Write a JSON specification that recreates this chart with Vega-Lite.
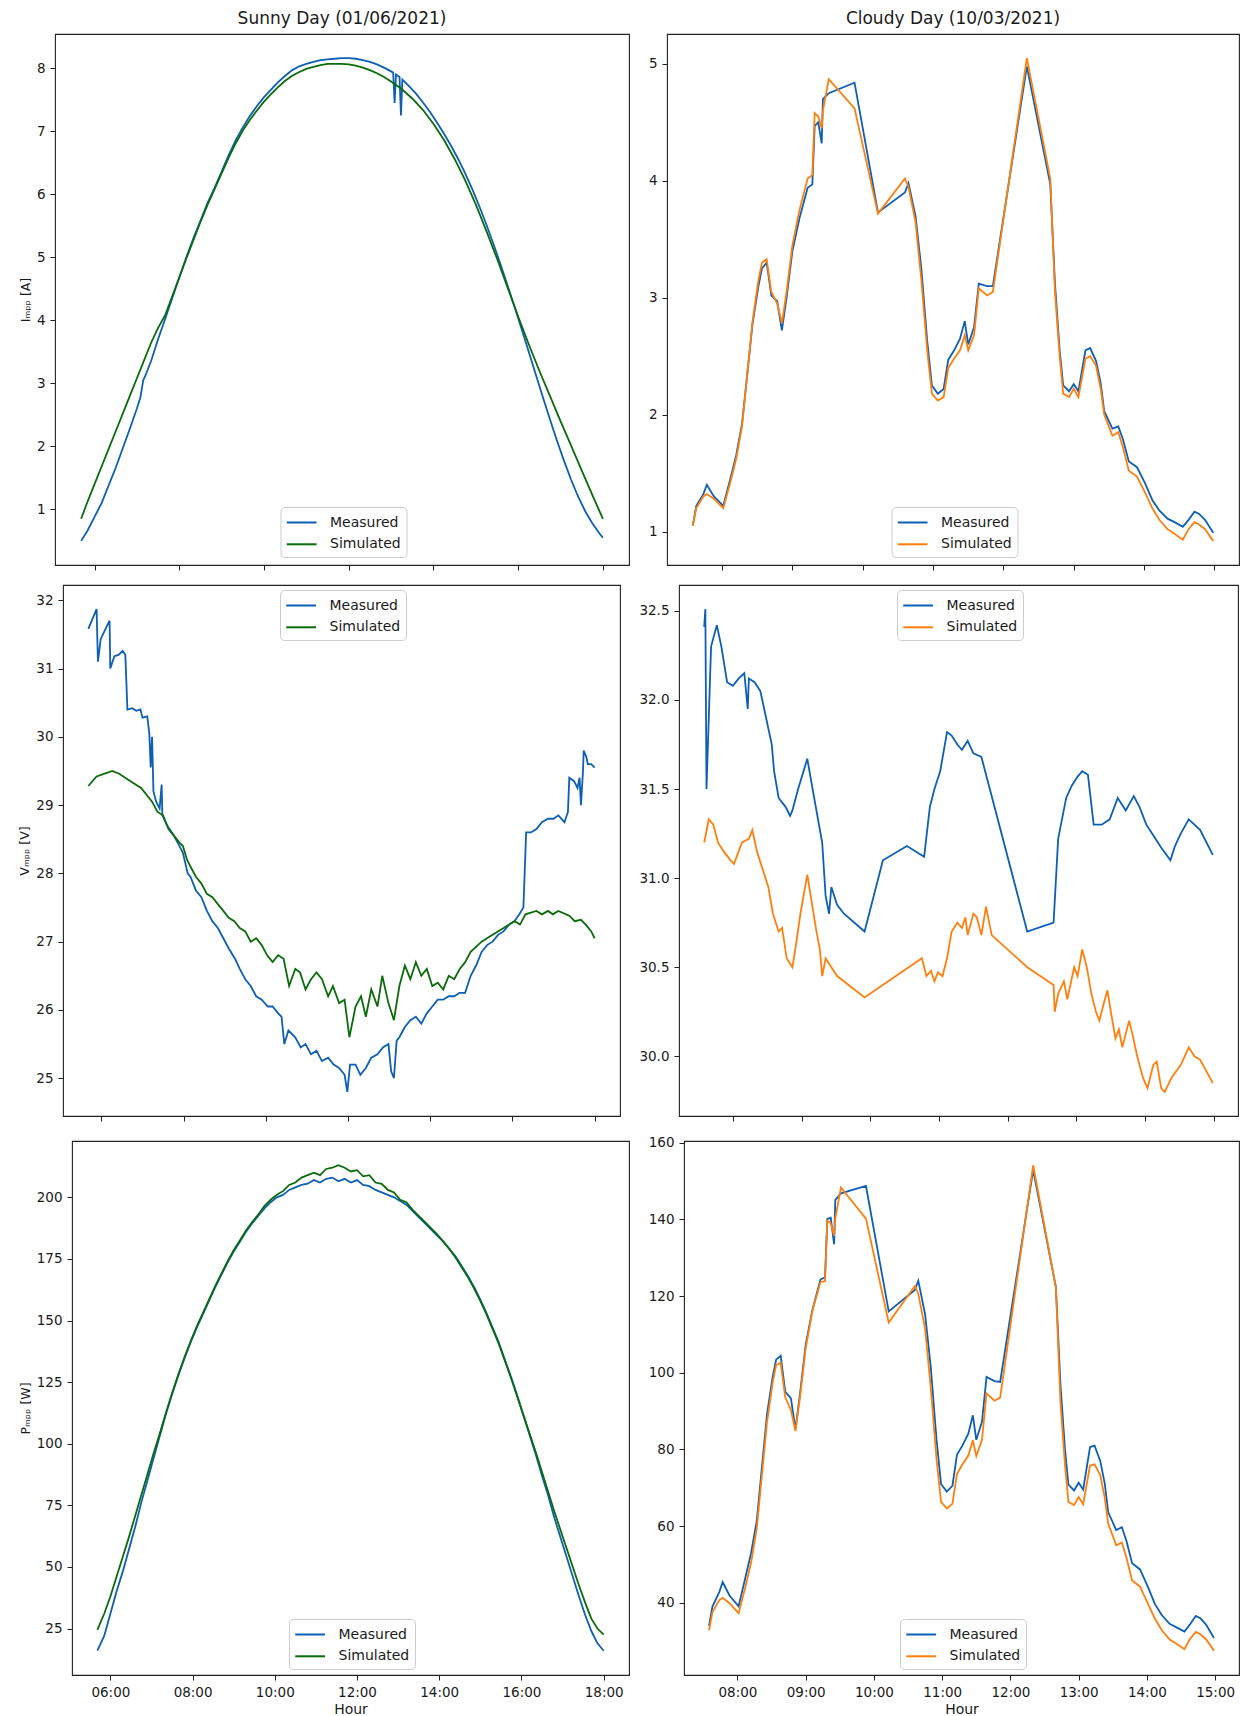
{
"$schema": "https://vega.github.io/schema/vega-lite/v6.json",
"background": "white",
"padding": {"left": 0, "top": 9, "right": 0, "bottom": 0},
"spacing": 12,
"resolve": {"scale": {"x": "independent", "y": "independent", "color": "independent"}, "axis": {"x": "independent", "y": "independent"}, "legend": {"color": "independent"}},
"vconcat": [
{
"spacing": 17,
"resolve": {"scale": {"x": "independent", "y": "independent", "color": "independent"}, "axis": {"x": "independent", "y": "independent"}, "legend": {"color": "independent"}},
"hconcat": [
{"width": 1, "height": 10, "data": {"values": []}, "mark": {"type": "point", "opacity": 0}, "encoding": {}, "view": {"stroke": null}},
{
"width": 574, "height": 531,
"title": {"text": "Sunny Day (01/06/2021)"},
"data": {"values": [
{"time":"2021-06-01T05:41","series":"Measured","value":0.50},{"time":"2021-06-01T05:50","series":"Measured","value":0.66},{"time":"2021-06-01T06:00","series":"Measured","value":0.88},{"time":"2021-06-01T06:10","series":"Measured","value":1.10},{"time":"2021-06-01T06:20","series":"Measured","value":1.38},{"time":"2021-06-01T06:30","series":"Measured","value":1.66},{"time":"2021-06-01T06:40","series":"Measured","value":1.97},{"time":"2021-06-01T06:50","series":"Measured","value":2.28},{"time":"2021-06-01T07:00","series":"Measured","value":2.60},{"time":"2021-06-01T07:05","series":"Measured","value":2.78},{"time":"2021-06-01T07:09","series":"Measured","value":3.05},{"time":"2021-06-01T07:12","series":"Measured","value":3.12},{"time":"2021-06-01T07:20","series":"Measured","value":3.35},{"time":"2021-06-01T07:30","series":"Measured","value":3.70},{"time":"2021-06-01T07:40","series":"Measured","value":4.02},{"time":"2021-06-01T07:50","series":"Measured","value":4.35},{"time":"2021-06-01T08:00","series":"Measured","value":4.68},{"time":"2021-06-01T08:10","series":"Measured","value":5.00},{"time":"2021-06-01T08:20","series":"Measured","value":5.30},{"time":"2021-06-01T08:30","series":"Measured","value":5.58},{"time":"2021-06-01T08:40","series":"Measured","value":5.86},{"time":"2021-06-01T08:50","series":"Measured","value":6.10},{"time":"2021-06-01T09:00","series":"Measured","value":6.36},{"time":"2021-06-01T09:10","series":"Measured","value":6.62},{"time":"2021-06-01T09:20","series":"Measured","value":6.86},{"time":"2021-06-01T09:30","series":"Measured","value":7.06},{"time":"2021-06-01T09:40","series":"Measured","value":7.24},{"time":"2021-06-01T09:50","series":"Measured","value":7.40},{"time":"2021-06-01T10:00","series":"Measured","value":7.54},{"time":"2021-06-01T10:10","series":"Measured","value":7.66},{"time":"2021-06-01T10:20","series":"Measured","value":7.78},{"time":"2021-06-01T10:30","series":"Measured","value":7.88},{"time":"2021-06-01T10:40","series":"Measured","value":7.97},{"time":"2021-06-01T10:50","series":"Measured","value":8.03},{"time":"2021-06-01T11:00","series":"Measured","value":8.07},{"time":"2021-06-01T11:10","series":"Measured","value":8.10},{"time":"2021-06-01T11:20","series":"Measured","value":8.13},{"time":"2021-06-01T11:30","series":"Measured","value":8.14},{"time":"2021-06-01T11:40","series":"Measured","value":8.15},{"time":"2021-06-01T11:50","series":"Measured","value":8.16},{"time":"2021-06-01T12:00","series":"Measured","value":8.16},{"time":"2021-06-01T12:10","series":"Measured","value":8.15},{"time":"2021-06-01T12:20","series":"Measured","value":8.13},{"time":"2021-06-01T12:30","series":"Measured","value":8.10},{"time":"2021-06-01T12:40","series":"Measured","value":8.06},{"time":"2021-06-01T12:50","series":"Measured","value":8.01},{"time":"2021-06-01T13:00","series":"Measured","value":7.95},{"time":"2021-06-01T13:03","series":"Measured","value":7.93},{"time":"2021-06-01T13:05","series":"Measured","value":7.45},{"time":"2021-06-01T13:07","series":"Measured","value":7.90},{"time":"2021-06-01T13:12","series":"Measured","value":7.86},{"time":"2021-06-01T13:14","series":"Measured","value":7.25},{"time":"2021-06-01T13:16","series":"Measured","value":7.82},{"time":"2021-06-01T13:25","series":"Measured","value":7.72},{"time":"2021-06-01T13:35","series":"Measured","value":7.60},{"time":"2021-06-01T13:45","series":"Measured","value":7.46},{"time":"2021-06-01T13:55","series":"Measured","value":7.31},{"time":"2021-06-01T14:05","series":"Measured","value":7.14},{"time":"2021-06-01T14:15","series":"Measured","value":6.96},{"time":"2021-06-01T14:25","series":"Measured","value":6.77},{"time":"2021-06-01T14:35","series":"Measured","value":6.56},{"time":"2021-06-01T14:45","series":"Measured","value":6.33},{"time":"2021-06-01T14:55","series":"Measured","value":6.08},{"time":"2021-06-01T15:05","series":"Measured","value":5.81},{"time":"2021-06-01T15:15","series":"Measured","value":5.52},{"time":"2021-06-01T15:25","series":"Measured","value":5.21},{"time":"2021-06-01T15:35","series":"Measured","value":4.89},{"time":"2021-06-01T15:45","series":"Measured","value":4.55},{"time":"2021-06-01T15:55","series":"Measured","value":4.21},{"time":"2021-06-01T16:05","series":"Measured","value":3.86},{"time":"2021-06-01T16:15","series":"Measured","value":3.50},{"time":"2021-06-01T16:25","series":"Measured","value":3.14},{"time":"2021-06-01T16:35","series":"Measured","value":2.78},{"time":"2021-06-01T16:45","series":"Measured","value":2.43},{"time":"2021-06-01T16:55","series":"Measured","value":2.09},{"time":"2021-06-01T17:05","series":"Measured","value":1.77},{"time":"2021-06-01T17:15","series":"Measured","value":1.47},{"time":"2021-06-01T17:25","series":"Measured","value":1.20},{"time":"2021-06-01T17:35","series":"Measured","value":0.97},{"time":"2021-06-01T17:45","series":"Measured","value":0.78},{"time":"2021-06-01T17:55","series":"Measured","value":0.62},{"time":"2021-06-01T18:00","series":"Measured","value":0.55},
{"time":"2021-06-01T05:41","series":"Simulated","value":0.85},{"time":"2021-06-01T05:50","series":"Simulated","value":1.12},{"time":"2021-06-01T06:00","series":"Simulated","value":1.40},{"time":"2021-06-01T06:10","series":"Simulated","value":1.68},{"time":"2021-06-01T06:20","series":"Simulated","value":1.96},{"time":"2021-06-01T06:30","series":"Simulated","value":2.24},{"time":"2021-06-01T06:40","series":"Simulated","value":2.52},{"time":"2021-06-01T06:50","series":"Simulated","value":2.80},{"time":"2021-06-01T07:00","series":"Simulated","value":3.08},{"time":"2021-06-01T07:10","series":"Simulated","value":3.36},{"time":"2021-06-01T07:20","series":"Simulated","value":3.64},{"time":"2021-06-01T07:30","series":"Simulated","value":3.88},{"time":"2021-06-01T07:40","series":"Simulated","value":4.08},{"time":"2021-06-01T07:50","series":"Simulated","value":4.38},{"time":"2021-06-01T08:00","series":"Simulated","value":4.68},{"time":"2021-06-01T08:10","series":"Simulated","value":4.98},{"time":"2021-06-01T08:20","series":"Simulated","value":5.27},{"time":"2021-06-01T08:30","series":"Simulated","value":5.56},{"time":"2021-06-01T08:40","series":"Simulated","value":5.83},{"time":"2021-06-01T08:50","series":"Simulated","value":6.08},{"time":"2021-06-01T09:00","series":"Simulated","value":6.33},{"time":"2021-06-01T09:10","series":"Simulated","value":6.58},{"time":"2021-06-01T09:20","series":"Simulated","value":6.81},{"time":"2021-06-01T09:30","series":"Simulated","value":7.01},{"time":"2021-06-01T09:40","series":"Simulated","value":7.18},{"time":"2021-06-01T09:50","series":"Simulated","value":7.33},{"time":"2021-06-01T10:00","series":"Simulated","value":7.47},{"time":"2021-06-01T10:10","series":"Simulated","value":7.59},{"time":"2021-06-01T10:20","series":"Simulated","value":7.70},{"time":"2021-06-01T10:30","series":"Simulated","value":7.80},{"time":"2021-06-01T10:40","series":"Simulated","value":7.88},{"time":"2021-06-01T10:50","series":"Simulated","value":7.94},{"time":"2021-06-01T11:00","series":"Simulated","value":7.99},{"time":"2021-06-01T11:10","series":"Simulated","value":8.02},{"time":"2021-06-01T11:20","series":"Simulated","value":8.05},{"time":"2021-06-01T11:30","series":"Simulated","value":8.07},{"time":"2021-06-01T11:40","series":"Simulated","value":8.07},{"time":"2021-06-01T11:50","series":"Simulated","value":8.07},{"time":"2021-06-01T12:00","series":"Simulated","value":8.06},{"time":"2021-06-01T12:10","series":"Simulated","value":8.04},{"time":"2021-06-01T12:20","series":"Simulated","value":8.01},{"time":"2021-06-01T12:30","series":"Simulated","value":7.97},{"time":"2021-06-01T12:40","series":"Simulated","value":7.92},{"time":"2021-06-01T12:50","series":"Simulated","value":7.86},{"time":"2021-06-01T13:00","series":"Simulated","value":7.79},{"time":"2021-06-01T13:15","series":"Simulated","value":7.67},{"time":"2021-06-01T13:30","series":"Simulated","value":7.52},{"time":"2021-06-01T13:45","series":"Simulated","value":7.34},{"time":"2021-06-01T14:00","series":"Simulated","value":7.12},{"time":"2021-06-01T14:15","series":"Simulated","value":6.86},{"time":"2021-06-01T14:30","series":"Simulated","value":6.56},{"time":"2021-06-01T14:45","series":"Simulated","value":6.22},{"time":"2021-06-01T15:00","series":"Simulated","value":5.84},{"time":"2021-06-01T15:15","series":"Simulated","value":5.42},{"time":"2021-06-01T15:30","series":"Simulated","value":4.98},{"time":"2021-06-01T15:45","series":"Simulated","value":4.52},{"time":"2021-06-01T16:00","series":"Simulated","value":4.06},{"time":"2021-06-01T16:15","series":"Simulated","value":3.62},{"time":"2021-06-01T16:30","series":"Simulated","value":3.20},{"time":"2021-06-01T16:45","series":"Simulated","value":2.80},{"time":"2021-06-01T17:00","series":"Simulated","value":2.40},{"time":"2021-06-01T17:15","series":"Simulated","value":2.01},{"time":"2021-06-01T17:30","series":"Simulated","value":1.62},{"time":"2021-06-01T17:45","series":"Simulated","value":1.23},{"time":"2021-06-01T18:00","series":"Simulated","value":0.85}
]},
"mark": {"type": "line", "strokeWidth": 1.8},
"encoding": {
"x": {"field": "time", "type": "temporal", "scale": {"domain": [{"year":2021,"month":6,"date":1,"hours":5,"minutes":4},{"year":2021,"month":6,"date":1,"hours":18,"minutes":37}]}, "axis": {"title": null, "labels": false, "values": [{"year":2021,"month":6,"date":1,"hours":6},{"year":2021,"month":6,"date":1,"hours":8},{"year":2021,"month":6,"date":1,"hours":10},{"year":2021,"month":6,"date":1,"hours":12},{"year":2021,"month":6,"date":1,"hours":14},{"year":2021,"month":6,"date":1,"hours":16},{"year":2021,"month":6,"date":1,"hours":18}]}},
"y": {"field": "value", "type": "quantitative", "scale": {"domain": [0.117, 8.543], "nice": false, "zero": false}, "axis": {"title": "Iₘₚₚ [A]", "values": [1,2,3,4,5,6,7,8], "format": "d"}},
"color": {"field": "series", "type": "nominal", "scale": {"domain": ["Measured","Simulated"], "range": ["#0d5fb3","#0a6b0a"]}, "legend": {"orient": "none", "legendX": 225.5, "legendY": 473, "title": null, "symbolType": "M-1,0H2.22", "symbolSize": 342, "symbolStrokeWidth": 2}}
}
},
{
"width": 572, "height": 531,
"title": {"text": "Cloudy Day (10/03/2021)"},
"data": {"values": [
{"time":"2021-03-10T07:35","series":"Measured","value":1.05},{"time":"2021-03-10T07:38","series":"Measured","value":1.22},{"time":"2021-03-10T07:44","series":"Measured","value":1.32},{"time":"2021-03-10T07:47","series":"Measured","value":1.40},{"time":"2021-03-10T07:53","series":"Measured","value":1.30},{"time":"2021-03-10T08:01","series":"Measured","value":1.22},{"time":"2021-03-10T08:07","series":"Measured","value":1.45},{"time":"2021-03-10T08:12","series":"Measured","value":1.65},{"time":"2021-03-10T08:17","series":"Measured","value":1.92},{"time":"2021-03-10T08:21","series":"Measured","value":2.30},{"time":"2021-03-10T08:26","series":"Measured","value":2.78},{"time":"2021-03-10T08:31","series":"Measured","value":3.10},{"time":"2021-03-10T08:34","series":"Measured","value":3.25},{"time":"2021-03-10T08:38","series":"Measured","value":3.30},{"time":"2021-03-10T08:42","series":"Measured","value":3.02},{"time":"2021-03-10T08:47","series":"Measured","value":2.97},{"time":"2021-03-10T08:51","series":"Measured","value":2.72},{"time":"2021-03-10T08:55","series":"Measured","value":3.00},{"time":"2021-03-10T09:00","series":"Measured","value":3.40},{"time":"2021-03-10T09:06","series":"Measured","value":3.68},{"time":"2021-03-10T09:13","series":"Measured","value":3.94},{"time":"2021-03-10T09:17","series":"Measured","value":3.97},{"time":"2021-03-10T09:19","series":"Measured","value":4.47},{"time":"2021-03-10T09:22","series":"Measured","value":4.50},{"time":"2021-03-10T09:25","series":"Measured","value":4.32},{"time":"2021-03-10T09:26","series":"Measured","value":4.70},{"time":"2021-03-10T09:31","series":"Measured","value":4.75},{"time":"2021-03-10T09:53","series":"Measured","value":4.84},{"time":"2021-03-10T10:13","series":"Measured","value":3.73},{"time":"2021-03-10T10:36","series":"Measured","value":3.90},{"time":"2021-03-10T10:39","series":"Measured","value":3.98},{"time":"2021-03-10T10:45","series":"Measured","value":3.70},{"time":"2021-03-10T10:50","series":"Measured","value":3.25},{"time":"2021-03-10T10:55","series":"Measured","value":2.63},{"time":"2021-03-10T10:59","series":"Measured","value":2.25},{"time":"2021-03-10T11:04","series":"Measured","value":2.18},{"time":"2021-03-10T11:09","series":"Measured","value":2.22},{"time":"2021-03-10T11:13","series":"Measured","value":2.47},{"time":"2021-03-10T11:18","series":"Measured","value":2.55},{"time":"2021-03-10T11:23","series":"Measured","value":2.65},{"time":"2021-03-10T11:27","series":"Measured","value":2.80},{"time":"2021-03-10T11:30","series":"Measured","value":2.60},{"time":"2021-03-10T11:35","series":"Measured","value":2.75},{"time":"2021-03-10T11:39","series":"Measured","value":3.12},{"time":"2021-03-10T11:46","series":"Measured","value":3.10},{"time":"2021-03-10T11:51","series":"Measured","value":3.10},{"time":"2021-03-10T12:20","series":"Measured","value":4.98},{"time":"2021-03-10T12:40","series":"Measured","value":3.97},{"time":"2021-03-10T12:44","series":"Measured","value":3.12},{"time":"2021-03-10T12:48","series":"Measured","value":2.55},{"time":"2021-03-10T12:51","series":"Measured","value":2.25},{"time":"2021-03-10T12:56","series":"Measured","value":2.20},{"time":"2021-03-10T13:00","series":"Measured","value":2.26},{"time":"2021-03-10T13:04","series":"Measured","value":2.20},{"time":"2021-03-10T13:10","series":"Measured","value":2.55},{"time":"2021-03-10T13:14","series":"Measured","value":2.57},{"time":"2021-03-10T13:19","series":"Measured","value":2.46},{"time":"2021-03-10T13:23","series":"Measured","value":2.27},{"time":"2021-03-10T13:26","series":"Measured","value":2.03},{"time":"2021-03-10T13:33","series":"Measured","value":1.88},{"time":"2021-03-10T13:38","series":"Measured","value":1.90},{"time":"2021-03-10T13:42","series":"Measured","value":1.79},{"time":"2021-03-10T13:47","series":"Measured","value":1.60},{"time":"2021-03-10T13:54","series":"Measured","value":1.55},{"time":"2021-03-10T14:01","series":"Measured","value":1.41},{"time":"2021-03-10T14:07","series":"Measured","value":1.27},{"time":"2021-03-10T14:13","series":"Measured","value":1.18},{"time":"2021-03-10T14:20","series":"Measured","value":1.11},{"time":"2021-03-10T14:26","series":"Measured","value":1.08},{"time":"2021-03-10T14:33","series":"Measured","value":1.04},{"time":"2021-03-10T14:38","series":"Measured","value":1.10},{"time":"2021-03-10T14:43","series":"Measured","value":1.17},{"time":"2021-03-10T14:47","series":"Measured","value":1.15},{"time":"2021-03-10T14:52","series":"Measured","value":1.10},{"time":"2021-03-10T14:59","series":"Measured","value":0.99},
{"time":"2021-03-10T07:35","series":"Simulated","value":1.05},{"time":"2021-03-10T07:38","series":"Simulated","value":1.20},{"time":"2021-03-10T07:44","series":"Simulated","value":1.30},{"time":"2021-03-10T07:47","series":"Simulated","value":1.32},{"time":"2021-03-10T07:53","series":"Simulated","value":1.28},{"time":"2021-03-10T08:01","series":"Simulated","value":1.20},{"time":"2021-03-10T08:07","series":"Simulated","value":1.42},{"time":"2021-03-10T08:12","series":"Simulated","value":1.62},{"time":"2021-03-10T08:17","series":"Simulated","value":1.90},{"time":"2021-03-10T08:21","series":"Simulated","value":2.30},{"time":"2021-03-10T08:26","series":"Simulated","value":2.80},{"time":"2021-03-10T08:31","series":"Simulated","value":3.15},{"time":"2021-03-10T08:34","series":"Simulated","value":3.30},{"time":"2021-03-10T08:38","series":"Simulated","value":3.33},{"time":"2021-03-10T08:42","series":"Simulated","value":3.05},{"time":"2021-03-10T08:47","series":"Simulated","value":2.95},{"time":"2021-03-10T08:51","series":"Simulated","value":2.78},{"time":"2021-03-10T08:55","series":"Simulated","value":3.05},{"time":"2021-03-10T09:00","series":"Simulated","value":3.45},{"time":"2021-03-10T09:06","series":"Simulated","value":3.75},{"time":"2021-03-10T09:13","series":"Simulated","value":4.02},{"time":"2021-03-10T09:17","series":"Simulated","value":4.05},{"time":"2021-03-10T09:19","series":"Simulated","value":4.58},{"time":"2021-03-10T09:22","series":"Simulated","value":4.55},{"time":"2021-03-10T09:25","series":"Simulated","value":4.45},{"time":"2021-03-10T09:26","series":"Simulated","value":4.60},{"time":"2021-03-10T09:31","series":"Simulated","value":4.87},{"time":"2021-03-10T09:53","series":"Simulated","value":4.62},{"time":"2021-03-10T10:13","series":"Simulated","value":3.72},{"time":"2021-03-10T10:36","series":"Simulated","value":4.02},{"time":"2021-03-10T10:39","series":"Simulated","value":3.95},{"time":"2021-03-10T10:45","series":"Simulated","value":3.65},{"time":"2021-03-10T10:50","series":"Simulated","value":3.15},{"time":"2021-03-10T10:55","series":"Simulated","value":2.55},{"time":"2021-03-10T10:59","series":"Simulated","value":2.18},{"time":"2021-03-10T11:04","series":"Simulated","value":2.12},{"time":"2021-03-10T11:09","series":"Simulated","value":2.15},{"time":"2021-03-10T11:13","series":"Simulated","value":2.40},{"time":"2021-03-10T11:18","series":"Simulated","value":2.48},{"time":"2021-03-10T11:23","series":"Simulated","value":2.55},{"time":"2021-03-10T11:27","series":"Simulated","value":2.68},{"time":"2021-03-10T11:30","series":"Simulated","value":2.55},{"time":"2021-03-10T11:35","series":"Simulated","value":2.68},{"time":"2021-03-10T11:39","series":"Simulated","value":3.08},{"time":"2021-03-10T11:46","series":"Simulated","value":3.02},{"time":"2021-03-10T11:51","series":"Simulated","value":3.05},{"time":"2021-03-10T12:20","series":"Simulated","value":5.05},{"time":"2021-03-10T12:40","series":"Simulated","value":4.02},{"time":"2021-03-10T12:44","series":"Simulated","value":3.05},{"time":"2021-03-10T12:48","series":"Simulated","value":2.50},{"time":"2021-03-10T12:51","series":"Simulated","value":2.18},{"time":"2021-03-10T12:56","series":"Simulated","value":2.15},{"time":"2021-03-10T13:00","series":"Simulated","value":2.22},{"time":"2021-03-10T13:04","series":"Simulated","value":2.15},{"time":"2021-03-10T13:10","series":"Simulated","value":2.48},{"time":"2021-03-10T13:14","series":"Simulated","value":2.50},{"time":"2021-03-10T13:19","series":"Simulated","value":2.42},{"time":"2021-03-10T13:23","series":"Simulated","value":2.22},{"time":"2021-03-10T13:26","series":"Simulated","value":2.00},{"time":"2021-03-10T13:33","series":"Simulated","value":1.82},{"time":"2021-03-10T13:38","series":"Simulated","value":1.85},{"time":"2021-03-10T13:42","series":"Simulated","value":1.72},{"time":"2021-03-10T13:47","series":"Simulated","value":1.52},{"time":"2021-03-10T13:54","series":"Simulated","value":1.47},{"time":"2021-03-10T14:01","series":"Simulated","value":1.33},{"time":"2021-03-10T14:07","series":"Simulated","value":1.20},{"time":"2021-03-10T14:13","series":"Simulated","value":1.10},{"time":"2021-03-10T14:20","series":"Simulated","value":1.02},{"time":"2021-03-10T14:26","series":"Simulated","value":0.98},{"time":"2021-03-10T14:33","series":"Simulated","value":0.93},{"time":"2021-03-10T14:38","series":"Simulated","value":1.02},{"time":"2021-03-10T14:43","series":"Simulated","value":1.08},{"time":"2021-03-10T14:47","series":"Simulated","value":1.06},{"time":"2021-03-10T14:52","series":"Simulated","value":1.02},{"time":"2021-03-10T14:59","series":"Simulated","value":0.92}
]},
"mark": {"type": "line", "strokeWidth": 1.8},
"encoding": {
"x": {"field": "time", "type": "temporal", "scale": {"domain": [{"year":2021,"month":3,"date":10,"hours":7,"minutes":13},{"year":2021,"month":3,"date":10,"hours":15,"minutes":21}]}, "axis": {"title": null, "labels": false, "values": [{"year":2021,"month":3,"date":10,"hours":8},{"year":2021,"month":3,"date":10,"hours":9},{"year":2021,"month":3,"date":10,"hours":10},{"year":2021,"month":3,"date":10,"hours":11},{"year":2021,"month":3,"date":10,"hours":12},{"year":2021,"month":3,"date":10,"hours":13},{"year":2021,"month":3,"date":10,"hours":14},{"year":2021,"month":3,"date":10,"hours":15}]}},
"y": {"field": "value", "type": "quantitative", "scale": {"domain": [0.7135, 5.2565], "nice": false, "zero": false}, "axis": {"title": null, "values": [1,2,3,4,5], "format": "d"}},
"color": {"field": "series", "type": "nominal", "scale": {"domain": ["Measured","Simulated"], "range": ["#0d5fb3","#ff7f0e"]}, "legend": {"orient": "none", "legendX": 224.5, "legendY": 473, "title": null, "symbolType": "M-1,0H2.22", "symbolSize": 342, "symbolStrokeWidth": 2}}
}
}
]
},
{
"spacing": 17,
"resolve": {"scale": {"x": "independent", "y": "independent", "color": "independent"}, "axis": {"x": "independent", "y": "independent"}, "legend": {"color": "independent"}},
"hconcat": [
{"width": 1, "height": 10, "data": {"values": []}, "mark": {"type": "point", "opacity": 0}, "encoding": {}, "view": {"stroke": null}},
{
"width": 557, "height": 531,
"data": {"values": [
{"time":"2021-06-01T05:41","series":"Measured","value":31.58},{"time":"2021-06-01T05:53","series":"Measured","value":31.87},{"time":"2021-06-01T05:55","series":"Measured","value":31.10},{"time":"2021-06-01T05:59","series":"Measured","value":31.43},{"time":"2021-06-01T06:08","series":"Measured","value":31.62},{"time":"2021-06-01T06:12","series":"Measured","value":31.70},{"time":"2021-06-01T06:13","series":"Measured","value":31.00},{"time":"2021-06-01T06:19","series":"Measured","value":31.18},{"time":"2021-06-01T06:25","series":"Measured","value":31.20},{"time":"2021-06-01T06:31","series":"Measured","value":31.26},{"time":"2021-06-01T06:35","series":"Measured","value":31.20},{"time":"2021-06-01T06:38","series":"Measured","value":30.40},{"time":"2021-06-01T06:45","series":"Measured","value":30.42},{"time":"2021-06-01T06:51","series":"Measured","value":30.38},{"time":"2021-06-01T06:57","series":"Measured","value":30.40},{"time":"2021-06-01T07:00","series":"Measured","value":30.28},{"time":"2021-06-01T07:07","series":"Measured","value":30.30},{"time":"2021-06-01T07:10","series":"Measured","value":30.05},{"time":"2021-06-01T07:12","series":"Measured","value":29.55},{"time":"2021-06-01T07:14","series":"Measured","value":30.00},{"time":"2021-06-01T07:16","series":"Measured","value":29.20},{"time":"2021-06-01T07:20","series":"Measured","value":29.05},{"time":"2021-06-01T07:25","series":"Measured","value":28.95},{"time":"2021-06-01T07:28","series":"Measured","value":29.30},{"time":"2021-06-01T07:29","series":"Measured","value":28.85},{"time":"2021-06-01T07:36","series":"Measured","value":28.70},{"time":"2021-06-01T07:46","series":"Measured","value":28.55},{"time":"2021-06-01T07:54","series":"Measured","value":28.40},{"time":"2021-06-01T07:59","series":"Measured","value":28.30},{"time":"2021-06-01T08:06","series":"Measured","value":28.00},{"time":"2021-06-01T08:10","series":"Measured","value":27.95},{"time":"2021-06-01T08:18","series":"Measured","value":27.75},{"time":"2021-06-01T08:26","series":"Measured","value":27.65},{"time":"2021-06-01T08:34","series":"Measured","value":27.45},{"time":"2021-06-01T08:42","series":"Measured","value":27.30},{"time":"2021-06-01T08:50","series":"Measured","value":27.20},{"time":"2021-06-01T08:58","series":"Measured","value":27.05},{"time":"2021-06-01T09:06","series":"Measured","value":26.90},{"time":"2021-06-01T09:15","series":"Measured","value":26.75},{"time":"2021-06-01T09:22","series":"Measured","value":26.60},{"time":"2021-06-01T09:30","series":"Measured","value":26.45},{"time":"2021-06-01T09:38","series":"Measured","value":26.35},{"time":"2021-06-01T09:46","series":"Measured","value":26.20},{"time":"2021-06-01T09:54","series":"Measured","value":26.15},{"time":"2021-06-01T10:03","series":"Measured","value":26.05},{"time":"2021-06-01T10:10","series":"Measured","value":26.05},{"time":"2021-06-01T10:18","series":"Measured","value":25.95},{"time":"2021-06-01T10:23","series":"Measured","value":25.90},{"time":"2021-06-01T10:27","series":"Measured","value":25.50},{"time":"2021-06-01T10:33","series":"Measured","value":25.70},{"time":"2021-06-01T10:43","series":"Measured","value":25.60},{"time":"2021-06-01T10:51","series":"Measured","value":25.45},{"time":"2021-06-01T10:58","series":"Measured","value":25.50},{"time":"2021-06-01T11:06","series":"Measured","value":25.35},{"time":"2021-06-01T11:14","series":"Measured","value":25.40},{"time":"2021-06-01T11:22","series":"Measured","value":25.25},{"time":"2021-06-01T11:31","series":"Measured","value":25.30},{"time":"2021-06-01T11:39","series":"Measured","value":25.20},{"time":"2021-06-01T11:47","series":"Measured","value":25.15},{"time":"2021-06-01T11:55","series":"Measured","value":25.05},{"time":"2021-06-01T11:59","series":"Measured","value":24.80},{"time":"2021-06-01T12:03","series":"Measured","value":25.20},{"time":"2021-06-01T12:11","series":"Measured","value":25.20},{"time":"2021-06-01T12:18","series":"Measured","value":25.05},{"time":"2021-06-01T12:26","series":"Measured","value":25.15},{"time":"2021-06-01T12:34","series":"Measured","value":25.30},{"time":"2021-06-01T12:43","series":"Measured","value":25.35},{"time":"2021-06-01T12:51","series":"Measured","value":25.45},{"time":"2021-06-01T12:59","series":"Measured","value":25.50},{"time":"2021-06-01T13:03","series":"Measured","value":25.10},{"time":"2021-06-01T13:07","series":"Measured","value":25.00},{"time":"2021-06-01T13:11","series":"Measured","value":25.55},{"time":"2021-06-01T13:15","series":"Measured","value":25.60},{"time":"2021-06-01T13:23","series":"Measured","value":25.75},{"time":"2021-06-01T13:31","series":"Measured","value":25.85},{"time":"2021-06-01T13:39","series":"Measured","value":25.90},{"time":"2021-06-01T13:47","series":"Measured","value":25.80},{"time":"2021-06-01T13:55","series":"Measured","value":25.95},{"time":"2021-06-01T14:03","series":"Measured","value":26.05},{"time":"2021-06-01T14:11","series":"Measured","value":26.15},{"time":"2021-06-01T14:19","series":"Measured","value":26.15},{"time":"2021-06-01T14:27","series":"Measured","value":26.20},{"time":"2021-06-01T14:35","series":"Measured","value":26.20},{"time":"2021-06-01T14:43","series":"Measured","value":26.25},{"time":"2021-06-01T14:51","series":"Measured","value":26.25},{"time":"2021-06-01T14:59","series":"Measured","value":26.50},{"time":"2021-06-01T15:07","series":"Measured","value":26.65},{"time":"2021-06-01T15:15","series":"Measured","value":26.85},{"time":"2021-06-01T15:23","series":"Measured","value":26.95},{"time":"2021-06-01T15:31","series":"Measured","value":27.00},{"time":"2021-06-01T15:39","series":"Measured","value":27.10},{"time":"2021-06-01T15:47","series":"Measured","value":27.15},{"time":"2021-06-01T15:55","series":"Measured","value":27.25},{"time":"2021-06-01T16:03","series":"Measured","value":27.30},{"time":"2021-06-01T16:10","series":"Measured","value":27.40},{"time":"2021-06-01T16:16","series":"Measured","value":27.50},{"time":"2021-06-01T16:20","series":"Measured","value":28.60},{"time":"2021-06-01T16:27","series":"Measured","value":28.60},{"time":"2021-06-01T16:35","series":"Measured","value":28.65},{"time":"2021-06-01T16:43","series":"Measured","value":28.75},{"time":"2021-06-01T16:52","series":"Measured","value":28.80},{"time":"2021-06-01T17:00","series":"Measured","value":28.80},{"time":"2021-06-01T17:07","series":"Measured","value":28.85},{"time":"2021-06-01T17:16","series":"Measured","value":28.75},{"time":"2021-06-01T17:21","series":"Measured","value":28.90},{"time":"2021-06-01T17:23","series":"Measured","value":29.40},{"time":"2021-06-01T17:30","series":"Measured","value":29.35},{"time":"2021-06-01T17:35","series":"Measured","value":29.25},{"time":"2021-06-01T17:38","series":"Measured","value":29.40},{"time":"2021-06-01T17:40","series":"Measured","value":29.00},{"time":"2021-06-01T17:43","series":"Measured","value":29.50},{"time":"2021-06-01T17:44","series":"Measured","value":29.80},{"time":"2021-06-01T17:48","series":"Measured","value":29.70},{"time":"2021-06-01T17:50","series":"Measured","value":29.60},{"time":"2021-06-01T17:55","series":"Measured","value":29.60},{"time":"2021-06-01T18:00","series":"Measured","value":29.55},
{"time":"2021-06-01T05:41","series":"Simulated","value":29.28},{"time":"2021-06-01T05:53","series":"Simulated","value":29.42},{"time":"2021-06-01T06:10","series":"Simulated","value":29.48},{"time":"2021-06-01T06:16","series":"Simulated","value":29.50},{"time":"2021-06-01T06:26","series":"Simulated","value":29.46},{"time":"2021-06-01T06:38","series":"Simulated","value":29.38},{"time":"2021-06-01T06:50","series":"Simulated","value":29.30},{"time":"2021-06-01T06:58","series":"Simulated","value":29.25},{"time":"2021-06-01T07:14","series":"Simulated","value":29.05},{"time":"2021-06-01T07:22","series":"Simulated","value":28.90},{"time":"2021-06-01T07:30","series":"Simulated","value":28.85},{"time":"2021-06-01T07:38","series":"Simulated","value":28.65},{"time":"2021-06-01T07:46","series":"Simulated","value":28.55},{"time":"2021-06-01T07:54","series":"Simulated","value":28.45},{"time":"2021-06-01T07:59","series":"Simulated","value":28.40},{"time":"2021-06-01T08:05","series":"Simulated","value":28.20},{"time":"2021-06-01T08:10","series":"Simulated","value":28.10},{"time":"2021-06-01T08:18","series":"Simulated","value":27.95},{"time":"2021-06-01T08:26","series":"Simulated","value":27.85},{"time":"2021-06-01T08:34","series":"Simulated","value":27.70},{"time":"2021-06-01T08:42","series":"Simulated","value":27.65},{"time":"2021-06-01T08:50","series":"Simulated","value":27.55},{"time":"2021-06-01T08:58","series":"Simulated","value":27.45},{"time":"2021-06-01T09:06","series":"Simulated","value":27.35},{"time":"2021-06-01T09:14","series":"Simulated","value":27.30},{"time":"2021-06-01T09:22","series":"Simulated","value":27.20},{"time":"2021-06-01T09:30","series":"Simulated","value":27.15},{"time":"2021-06-01T09:38","series":"Simulated","value":27.00},{"time":"2021-06-01T09:46","series":"Simulated","value":27.05},{"time":"2021-06-01T09:54","series":"Simulated","value":26.95},{"time":"2021-06-01T10:02","series":"Simulated","value":26.80},{"time":"2021-06-01T10:10","series":"Simulated","value":26.70},{"time":"2021-06-01T10:18","series":"Simulated","value":26.80},{"time":"2021-06-01T10:26","series":"Simulated","value":26.75},{"time":"2021-06-01T10:34","series":"Simulated","value":26.35},{"time":"2021-06-01T10:43","series":"Simulated","value":26.60},{"time":"2021-06-01T10:50","series":"Simulated","value":26.55},{"time":"2021-06-01T10:58","series":"Simulated","value":26.30},{"time":"2021-06-01T11:06","series":"Simulated","value":26.45},{"time":"2021-06-01T11:14","series":"Simulated","value":26.55},{"time":"2021-06-01T11:22","series":"Simulated","value":26.45},{"time":"2021-06-01T11:31","series":"Simulated","value":26.20},{"time":"2021-06-01T11:38","series":"Simulated","value":26.35},{"time":"2021-06-01T11:47","series":"Simulated","value":26.10},{"time":"2021-06-01T11:55","series":"Simulated","value":26.15},{"time":"2021-06-01T12:02","series":"Simulated","value":25.60},{"time":"2021-06-01T12:11","series":"Simulated","value":26.05},{"time":"2021-06-01T12:19","series":"Simulated","value":26.20},{"time":"2021-06-01T12:26","series":"Simulated","value":25.90},{"time":"2021-06-01T12:34","series":"Simulated","value":26.30},{"time":"2021-06-01T12:43","series":"Simulated","value":26.05},{"time":"2021-06-01T12:50","series":"Simulated","value":26.50},{"time":"2021-06-01T12:59","series":"Simulated","value":26.10},{"time":"2021-06-01T13:07","series":"Simulated","value":25.85},{"time":"2021-06-01T13:15","series":"Simulated","value":26.35},{"time":"2021-06-01T13:23","series":"Simulated","value":26.65},{"time":"2021-06-01T13:31","series":"Simulated","value":26.45},{"time":"2021-06-01T13:39","series":"Simulated","value":26.70},{"time":"2021-06-01T13:47","series":"Simulated","value":26.50},{"time":"2021-06-01T13:55","series":"Simulated","value":26.60},{"time":"2021-06-01T14:03","series":"Simulated","value":26.35},{"time":"2021-06-01T14:11","series":"Simulated","value":26.40},{"time":"2021-06-01T14:19","series":"Simulated","value":26.30},{"time":"2021-06-01T14:27","series":"Simulated","value":26.50},{"time":"2021-06-01T14:35","series":"Simulated","value":26.45},{"time":"2021-06-01T14:43","series":"Simulated","value":26.60},{"time":"2021-06-01T14:51","series":"Simulated","value":26.70},{"time":"2021-06-01T14:59","series":"Simulated","value":26.85},{"time":"2021-06-01T15:15","series":"Simulated","value":27.00},{"time":"2021-06-01T15:31","series":"Simulated","value":27.10},{"time":"2021-06-01T15:47","series":"Simulated","value":27.20},{"time":"2021-06-01T16:03","series":"Simulated","value":27.30},{"time":"2021-06-01T16:11","series":"Simulated","value":27.25},{"time":"2021-06-01T16:19","series":"Simulated","value":27.40},{"time":"2021-06-01T16:35","series":"Simulated","value":27.45},{"time":"2021-06-01T16:43","series":"Simulated","value":27.40},{"time":"2021-06-01T16:52","series":"Simulated","value":27.45},{"time":"2021-06-01T16:59","series":"Simulated","value":27.40},{"time":"2021-06-01T17:07","series":"Simulated","value":27.45},{"time":"2021-06-01T17:23","series":"Simulated","value":27.38},{"time":"2021-06-01T17:31","series":"Simulated","value":27.30},{"time":"2021-06-01T17:40","series":"Simulated","value":27.32},{"time":"2021-06-01T17:47","series":"Simulated","value":27.25},{"time":"2021-06-01T17:55","series":"Simulated","value":27.15},{"time":"2021-06-01T18:00","series":"Simulated","value":27.05}
]},
"mark": {"type": "line", "strokeWidth": 1.8},
"encoding": {
"x": {"field": "time", "type": "temporal", "scale": {"domain": [{"year":2021,"month":6,"date":1,"hours":5,"minutes":4},{"year":2021,"month":6,"date":1,"hours":18,"minutes":37}]}, "axis": {"title": null, "labels": false, "values": [{"year":2021,"month":6,"date":1,"hours":6},{"year":2021,"month":6,"date":1,"hours":8},{"year":2021,"month":6,"date":1,"hours":10},{"year":2021,"month":6,"date":1,"hours":12},{"year":2021,"month":6,"date":1,"hours":14},{"year":2021,"month":6,"date":1,"hours":16},{"year":2021,"month":6,"date":1,"hours":18}]}},
"y": {"field": "value", "type": "quantitative", "scale": {"domain": [24.4465, 32.2235], "nice": false, "zero": false}, "axis": {"title": "Vₘₚₚ [V]", "values": [25,26,27,28,29,30,31,32], "format": "d"}},
"color": {"field": "series", "type": "nominal", "scale": {"domain": ["Measured","Simulated"], "range": ["#0d5fb3","#0a6b0a"]}, "legend": {"orient": "none", "legendX": 217, "legendY": 5, "title": null, "symbolType": "M-1,0H2.22", "symbolSize": 342, "symbolStrokeWidth": 2}}
}
},
{
"width": 559, "height": 531,
"data": {"values": [
{"time":"2021-03-10T07:35","series":"Measured","value":32.41},{"time":"2021-03-10T07:36","series":"Measured","value":32.51},{"time":"2021-03-10T07:37","series":"Measured","value":31.50},{"time":"2021-03-10T07:41","series":"Measured","value":32.30},{"time":"2021-03-10T07:46","series":"Measured","value":32.42},{"time":"2021-03-10T07:50","series":"Measured","value":32.30},{"time":"2021-03-10T07:55","series":"Measured","value":32.10},{"time":"2021-03-10T08:00","series":"Measured","value":32.08},{"time":"2021-03-10T08:05","series":"Measured","value":32.12},{"time":"2021-03-10T08:10","series":"Measured","value":32.15},{"time":"2021-03-10T08:13","series":"Measured","value":31.95},{"time":"2021-03-10T08:14","series":"Measured","value":32.12},{"time":"2021-03-10T08:19","series":"Measured","value":32.10},{"time":"2021-03-10T08:24","series":"Measured","value":32.05},{"time":"2021-03-10T08:29","series":"Measured","value":31.90},{"time":"2021-03-10T08:34","series":"Measured","value":31.75},{"time":"2021-03-10T08:36","series":"Measured","value":31.60},{"time":"2021-03-10T08:40","series":"Measured","value":31.45},{"time":"2021-03-10T08:46","series":"Measured","value":31.40},{"time":"2021-03-10T08:50","series":"Measured","value":31.35},{"time":"2021-03-10T08:52","series":"Measured","value":31.38},{"time":"2021-03-10T08:57","series":"Measured","value":31.50},{"time":"2021-03-10T09:05","series":"Measured","value":31.67},{"time":"2021-03-10T09:11","series":"Measured","value":31.45},{"time":"2021-03-10T09:18","series":"Measured","value":31.20},{"time":"2021-03-10T09:21","series":"Measured","value":30.90},{"time":"2021-03-10T09:24","series":"Measured","value":30.80},{"time":"2021-03-10T09:26","series":"Measured","value":30.95},{"time":"2021-03-10T09:31","series":"Measured","value":30.85},{"time":"2021-03-10T09:37","series":"Measured","value":30.80},{"time":"2021-03-10T09:55","series":"Measured","value":30.70},{"time":"2021-03-10T10:11","series":"Measured","value":31.10},{"time":"2021-03-10T10:32","series":"Measured","value":31.18},{"time":"2021-03-10T10:47","series":"Measured","value":31.12},{"time":"2021-03-10T10:52","series":"Measured","value":31.40},{"time":"2021-03-10T10:56","series":"Measured","value":31.50},{"time":"2021-03-10T11:01","series":"Measured","value":31.60},{"time":"2021-03-10T11:07","series":"Measured","value":31.82},{"time":"2021-03-10T11:11","series":"Measured","value":31.80},{"time":"2021-03-10T11:16","series":"Measured","value":31.75},{"time":"2021-03-10T11:20","series":"Measured","value":31.72},{"time":"2021-03-10T11:25","series":"Measured","value":31.77},{"time":"2021-03-10T11:30","series":"Measured","value":31.70},{"time":"2021-03-10T11:37","series":"Measured","value":31.68},{"time":"2021-03-10T12:17","series":"Measured","value":30.70},{"time":"2021-03-10T12:40","series":"Measured","value":30.75},{"time":"2021-03-10T12:44","series":"Measured","value":31.22},{"time":"2021-03-10T12:51","series":"Measured","value":31.45},{"time":"2021-03-10T12:56","series":"Measured","value":31.52},{"time":"2021-03-10T13:01","series":"Measured","value":31.57},{"time":"2021-03-10T13:05","series":"Measured","value":31.60},{"time":"2021-03-10T13:10","series":"Measured","value":31.58},{"time":"2021-03-10T13:15","series":"Measured","value":31.30},{"time":"2021-03-10T13:22","series":"Measured","value":31.30},{"time":"2021-03-10T13:29","series":"Measured","value":31.33},{"time":"2021-03-10T13:36","series":"Measured","value":31.45},{"time":"2021-03-10T13:43","series":"Measured","value":31.38},{"time":"2021-03-10T13:50","series":"Measured","value":31.46},{"time":"2021-03-10T13:55","series":"Measured","value":31.40},{"time":"2021-03-10T14:01","series":"Measured","value":31.30},{"time":"2021-03-10T14:07","series":"Measured","value":31.24},{"time":"2021-03-10T14:14","series":"Measured","value":31.17},{"time":"2021-03-10T14:22","series":"Measured","value":31.10},{"time":"2021-03-10T14:26","series":"Measured","value":31.18},{"time":"2021-03-10T14:31","series":"Measured","value":31.25},{"time":"2021-03-10T14:38","series":"Measured","value":31.33},{"time":"2021-03-10T14:43","series":"Measured","value":31.30},{"time":"2021-03-10T14:48","series":"Measured","value":31.27},{"time":"2021-03-10T14:59","series":"Measured","value":31.13},
{"time":"2021-03-10T07:35","series":"Simulated","value":31.20},{"time":"2021-03-10T07:39","series":"Simulated","value":31.33},{"time":"2021-03-10T07:43","series":"Simulated","value":31.30},{"time":"2021-03-10T07:47","series":"Simulated","value":31.20},{"time":"2021-03-10T07:52","series":"Simulated","value":31.15},{"time":"2021-03-10T07:58","series":"Simulated","value":31.10},{"time":"2021-03-10T08:01","series":"Simulated","value":31.08},{"time":"2021-03-10T08:08","series":"Simulated","value":31.20},{"time":"2021-03-10T08:14","series":"Simulated","value":31.22},{"time":"2021-03-10T08:17","series":"Simulated","value":31.27},{"time":"2021-03-10T08:21","series":"Simulated","value":31.15},{"time":"2021-03-10T08:26","series":"Simulated","value":31.05},{"time":"2021-03-10T08:31","series":"Simulated","value":30.95},{"time":"2021-03-10T08:35","series":"Simulated","value":30.80},{"time":"2021-03-10T08:40","series":"Simulated","value":30.70},{"time":"2021-03-10T08:43","series":"Simulated","value":30.72},{"time":"2021-03-10T08:47","series":"Simulated","value":30.55},{"time":"2021-03-10T08:52","series":"Simulated","value":30.50},{"time":"2021-03-10T08:55","series":"Simulated","value":30.62},{"time":"2021-03-10T08:59","series":"Simulated","value":30.80},{"time":"2021-03-10T09:05","series":"Simulated","value":31.02},{"time":"2021-03-10T09:08","series":"Simulated","value":30.90},{"time":"2021-03-10T09:13","series":"Simulated","value":30.70},{"time":"2021-03-10T09:16","series":"Simulated","value":30.60},{"time":"2021-03-10T09:18","series":"Simulated","value":30.45},{"time":"2021-03-10T09:21","series":"Simulated","value":30.55},{"time":"2021-03-10T09:26","series":"Simulated","value":30.50},{"time":"2021-03-10T09:31","series":"Simulated","value":30.45},{"time":"2021-03-10T09:55","series":"Simulated","value":30.33},{"time":"2021-03-10T10:45","series":"Simulated","value":30.55},{"time":"2021-03-10T10:49","series":"Simulated","value":30.45},{"time":"2021-03-10T10:53","series":"Simulated","value":30.48},{"time":"2021-03-10T10:56","series":"Simulated","value":30.42},{"time":"2021-03-10T10:59","series":"Simulated","value":30.47},{"time":"2021-03-10T11:03","series":"Simulated","value":30.45},{"time":"2021-03-10T11:07","series":"Simulated","value":30.55},{"time":"2021-03-10T11:11","series":"Simulated","value":30.70},{"time":"2021-03-10T11:16","series":"Simulated","value":30.75},{"time":"2021-03-10T11:20","series":"Simulated","value":30.72},{"time":"2021-03-10T11:23","series":"Simulated","value":30.78},{"time":"2021-03-10T11:25","series":"Simulated","value":30.68},{"time":"2021-03-10T11:30","series":"Simulated","value":30.80},{"time":"2021-03-10T11:33","series":"Simulated","value":30.78},{"time":"2021-03-10T11:37","series":"Simulated","value":30.68},{"time":"2021-03-10T11:41","series":"Simulated","value":30.84},{"time":"2021-03-10T11:46","series":"Simulated","value":30.68},{"time":"2021-03-10T12:17","series":"Simulated","value":30.50},{"time":"2021-03-10T12:40","series":"Simulated","value":30.40},{"time":"2021-03-10T12:41","series":"Simulated","value":30.25},{"time":"2021-03-10T12:44","series":"Simulated","value":30.35},{"time":"2021-03-10T12:49","series":"Simulated","value":30.42},{"time":"2021-03-10T12:52","series":"Simulated","value":30.32},{"time":"2021-03-10T12:58","series":"Simulated","value":30.50},{"time":"2021-03-10T13:01","series":"Simulated","value":30.45},{"time":"2021-03-10T13:05","series":"Simulated","value":30.60},{"time":"2021-03-10T13:09","series":"Simulated","value":30.50},{"time":"2021-03-10T13:13","series":"Simulated","value":30.35},{"time":"2021-03-10T13:17","series":"Simulated","value":30.25},{"time":"2021-03-10T13:20","series":"Simulated","value":30.20},{"time":"2021-03-10T13:24","series":"Simulated","value":30.30},{"time":"2021-03-10T13:27","series":"Simulated","value":30.37},{"time":"2021-03-10T13:30","series":"Simulated","value":30.25},{"time":"2021-03-10T13:34","series":"Simulated","value":30.10},{"time":"2021-03-10T13:37","series":"Simulated","value":30.15},{"time":"2021-03-10T13:40","series":"Simulated","value":30.05},{"time":"2021-03-10T13:46","series":"Simulated","value":30.20},{"time":"2021-03-10T13:49","series":"Simulated","value":30.12},{"time":"2021-03-10T13:53","series":"Simulated","value":30.00},{"time":"2021-03-10T13:58","series":"Simulated","value":29.88},{"time":"2021-03-10T14:02","series":"Simulated","value":29.82},{"time":"2021-03-10T14:07","series":"Simulated","value":29.95},{"time":"2021-03-10T14:10","series":"Simulated","value":29.97},{"time":"2021-03-10T14:14","series":"Simulated","value":29.82},{"time":"2021-03-10T14:17","series":"Simulated","value":29.80},{"time":"2021-03-10T14:23","series":"Simulated","value":29.88},{"time":"2021-03-10T14:31","series":"Simulated","value":29.95},{"time":"2021-03-10T14:38","series":"Simulated","value":30.05},{"time":"2021-03-10T14:43","series":"Simulated","value":30.00},{"time":"2021-03-10T14:48","series":"Simulated","value":29.98},{"time":"2021-03-10T14:59","series":"Simulated","value":29.85}
]},
"mark": {"type": "line", "strokeWidth": 1.8},
"encoding": {
"x": {"field": "time", "type": "temporal", "scale": {"domain": [{"year":2021,"month":3,"date":10,"hours":7,"minutes":13},{"year":2021,"month":3,"date":10,"hours":15,"minutes":21}]}, "axis": {"title": null, "labels": false, "values": [{"year":2021,"month":3,"date":10,"hours":8},{"year":2021,"month":3,"date":10,"hours":9},{"year":2021,"month":3,"date":10,"hours":10},{"year":2021,"month":3,"date":10,"hours":11},{"year":2021,"month":3,"date":10,"hours":12},{"year":2021,"month":3,"date":10,"hours":13},{"year":2021,"month":3,"date":10,"hours":14},{"year":2021,"month":3,"date":10,"hours":15}]}},
"y": {"field": "value", "type": "quantitative", "scale": {"domain": [29.6645, 32.6455], "nice": false, "zero": false}, "axis": {"title": null, "values": [30,30.5,31,31.5,32,32.5], "format": ".1f"}},
"color": {"field": "series", "type": "nominal", "scale": {"domain": ["Measured","Simulated"], "range": ["#0d5fb3","#ff7f0e"]}, "legend": {"orient": "none", "legendX": 218, "legendY": 5, "title": null, "symbolType": "M-1,0H2.22", "symbolSize": 342, "symbolStrokeWidth": 2}}
}
}
]
},
{
"spacing": 17,
"resolve": {"scale": {"x": "independent", "y": "independent", "color": "independent"}, "axis": {"x": "independent", "y": "independent"}, "legend": {"color": "independent"}},
"hconcat": [
{"width": 1, "height": 10, "data": {"values": []}, "mark": {"type": "point", "opacity": 0}, "encoding": {}, "view": {"stroke": null}},
{
"width": 557, "height": 534,
"data": {"values": [
{"time":"2021-06-01T05:41","series":"Measured","value":16},{"time":"2021-06-01T05:51","series":"Measured","value":22},{"time":"2021-06-01T06:00","series":"Measured","value":31},{"time":"2021-06-01T06:09","series":"Measured","value":40},{"time":"2021-06-01T06:18","series":"Measured","value":48},{"time":"2021-06-01T06:27","series":"Measured","value":57},{"time":"2021-06-01T06:36","series":"Measured","value":66},{"time":"2021-06-01T06:45","series":"Measured","value":76},{"time":"2021-06-01T06:54","series":"Measured","value":85},{"time":"2021-06-01T07:03","series":"Measured","value":94},{"time":"2021-06-01T07:12","series":"Measured","value":103},{"time":"2021-06-01T07:21","series":"Measured","value":112},{"time":"2021-06-01T07:30","series":"Measured","value":120},{"time":"2021-06-01T07:39","series":"Measured","value":127.5},{"time":"2021-06-01T07:48","series":"Measured","value":134.5},{"time":"2021-06-01T07:57","series":"Measured","value":141},{"time":"2021-06-01T08:06","series":"Measured","value":147},{"time":"2021-06-01T08:15","series":"Measured","value":152.5},{"time":"2021-06-01T08:24","series":"Measured","value":158},{"time":"2021-06-01T08:33","series":"Measured","value":163.5},{"time":"2021-06-01T08:42","series":"Measured","value":168.5},{"time":"2021-06-01T08:51","series":"Measured","value":173.5},{"time":"2021-06-01T09:00","series":"Measured","value":178},{"time":"2021-06-01T09:09","series":"Measured","value":182},{"time":"2021-06-01T09:18","series":"Measured","value":186},{"time":"2021-06-01T09:27","series":"Measured","value":189.5},{"time":"2021-06-01T09:36","series":"Measured","value":192.5},{"time":"2021-06-01T09:45","series":"Measured","value":195.5},{"time":"2021-06-01T09:54","series":"Measured","value":198},{"time":"2021-06-01T10:03","series":"Measured","value":200},{"time":"2021-06-01T10:12","series":"Measured","value":201},{"time":"2021-06-01T10:21","series":"Measured","value":203},{"time":"2021-06-01T10:30","series":"Measured","value":204},{"time":"2021-06-01T10:39","series":"Measured","value":205},{"time":"2021-06-01T10:48","series":"Measured","value":205.5},{"time":"2021-06-01T10:57","series":"Measured","value":207},{"time":"2021-06-01T11:06","series":"Measured","value":206},{"time":"2021-06-01T11:15","series":"Measured","value":207.5},{"time":"2021-06-01T11:24","series":"Measured","value":208},{"time":"2021-06-01T11:33","series":"Measured","value":206.5},{"time":"2021-06-01T11:42","series":"Measured","value":207.5},{"time":"2021-06-01T11:51","series":"Measured","value":206},{"time":"2021-06-01T12:00","series":"Measured","value":207},{"time":"2021-06-01T12:09","series":"Measured","value":205},{"time":"2021-06-01T12:18","series":"Measured","value":204.5},{"time":"2021-06-01T12:27","series":"Measured","value":203},{"time":"2021-06-01T12:36","series":"Measured","value":202},{"time":"2021-06-01T12:45","series":"Measured","value":201},{"time":"2021-06-01T12:54","series":"Measured","value":200},{"time":"2021-06-01T13:03","series":"Measured","value":198.5},{"time":"2021-06-01T13:12","series":"Measured","value":197},{"time":"2021-06-01T13:21","series":"Measured","value":194.5},{"time":"2021-06-01T13:30","series":"Measured","value":192},{"time":"2021-06-01T13:39","series":"Measured","value":189.5},{"time":"2021-06-01T13:48","series":"Measured","value":187},{"time":"2021-06-01T13:57","series":"Measured","value":184.5},{"time":"2021-06-01T14:06","series":"Measured","value":182},{"time":"2021-06-01T14:15","series":"Measured","value":179},{"time":"2021-06-01T14:24","series":"Measured","value":176},{"time":"2021-06-01T14:33","series":"Measured","value":172},{"time":"2021-06-01T14:42","series":"Measured","value":168},{"time":"2021-06-01T14:51","series":"Measured","value":163.5},{"time":"2021-06-01T15:00","series":"Measured","value":158.5},{"time":"2021-06-01T15:09","series":"Measured","value":153},{"time":"2021-06-01T15:18","series":"Measured","value":147},{"time":"2021-06-01T15:27","series":"Measured","value":141},{"time":"2021-06-01T15:36","series":"Measured","value":134},{"time":"2021-06-01T15:45","series":"Measured","value":127},{"time":"2021-06-01T15:54","series":"Measured","value":119.5},{"time":"2021-06-01T16:03","series":"Measured","value":111.5},{"time":"2021-06-01T16:12","series":"Measured","value":103.5},{"time":"2021-06-01T16:21","series":"Measured","value":95.5},{"time":"2021-06-01T16:30","series":"Measured","value":87},{"time":"2021-06-01T16:39","series":"Measured","value":79},{"time":"2021-06-01T16:48","series":"Measured","value":70},{"time":"2021-06-01T16:57","series":"Measured","value":62},{"time":"2021-06-01T17:06","series":"Measured","value":54},{"time":"2021-06-01T17:15","series":"Measured","value":46},{"time":"2021-06-01T17:24","series":"Measured","value":38},{"time":"2021-06-01T17:33","series":"Measured","value":30.5},{"time":"2021-06-01T17:42","series":"Measured","value":24},{"time":"2021-06-01T17:51","series":"Measured","value":19},{"time":"2021-06-01T18:00","series":"Measured","value":16},
{"time":"2021-06-01T05:41","series":"Simulated","value":24.5},{"time":"2021-06-01T05:51","series":"Simulated","value":31},{"time":"2021-06-01T06:00","series":"Simulated","value":38},{"time":"2021-06-01T06:09","series":"Simulated","value":46},{"time":"2021-06-01T06:18","series":"Simulated","value":54},{"time":"2021-06-01T06:27","series":"Simulated","value":62},{"time":"2021-06-01T06:36","series":"Simulated","value":70.5},{"time":"2021-06-01T06:45","series":"Simulated","value":79},{"time":"2021-06-01T06:54","series":"Simulated","value":87.5},{"time":"2021-06-01T07:03","series":"Simulated","value":96},{"time":"2021-06-01T07:12","series":"Simulated","value":104},{"time":"2021-06-01T07:21","series":"Simulated","value":112.5},{"time":"2021-06-01T07:30","series":"Simulated","value":120.5},{"time":"2021-06-01T07:39","series":"Simulated","value":128},{"time":"2021-06-01T07:48","series":"Simulated","value":135},{"time":"2021-06-01T07:57","series":"Simulated","value":141.5},{"time":"2021-06-01T08:06","series":"Simulated","value":147.5},{"time":"2021-06-01T08:15","series":"Simulated","value":153},{"time":"2021-06-01T08:24","series":"Simulated","value":158.5},{"time":"2021-06-01T08:33","series":"Simulated","value":164},{"time":"2021-06-01T08:42","series":"Simulated","value":169},{"time":"2021-06-01T08:51","series":"Simulated","value":174},{"time":"2021-06-01T09:00","series":"Simulated","value":178.5},{"time":"2021-06-01T09:09","series":"Simulated","value":182.5},{"time":"2021-06-01T09:18","series":"Simulated","value":186.5},{"time":"2021-06-01T09:27","series":"Simulated","value":190},{"time":"2021-06-01T09:36","series":"Simulated","value":193},{"time":"2021-06-01T09:45","series":"Simulated","value":196.5},{"time":"2021-06-01T09:54","series":"Simulated","value":199},{"time":"2021-06-01T10:03","series":"Simulated","value":201},{"time":"2021-06-01T10:12","series":"Simulated","value":202.5},{"time":"2021-06-01T10:21","series":"Simulated","value":205},{"time":"2021-06-01T10:30","series":"Simulated","value":206},{"time":"2021-06-01T10:39","series":"Simulated","value":208},{"time":"2021-06-01T10:48","series":"Simulated","value":209},{"time":"2021-06-01T10:57","series":"Simulated","value":210},{"time":"2021-06-01T11:06","series":"Simulated","value":209},{"time":"2021-06-01T11:15","series":"Simulated","value":211.5},{"time":"2021-06-01T11:24","series":"Simulated","value":212},{"time":"2021-06-01T11:33","series":"Simulated","value":213},{"time":"2021-06-01T11:42","series":"Simulated","value":212},{"time":"2021-06-01T11:51","series":"Simulated","value":210.5},{"time":"2021-06-01T12:00","series":"Simulated","value":211},{"time":"2021-06-01T12:09","series":"Simulated","value":208.5},{"time":"2021-06-01T12:18","series":"Simulated","value":209},{"time":"2021-06-01T12:27","series":"Simulated","value":206},{"time":"2021-06-01T12:36","series":"Simulated","value":205.5},{"time":"2021-06-01T12:45","series":"Simulated","value":203},{"time":"2021-06-01T12:54","series":"Simulated","value":202},{"time":"2021-06-01T13:03","series":"Simulated","value":199},{"time":"2021-06-01T13:12","series":"Simulated","value":198},{"time":"2021-06-01T13:21","series":"Simulated","value":195},{"time":"2021-06-01T13:30","series":"Simulated","value":192.5},{"time":"2021-06-01T13:39","series":"Simulated","value":190},{"time":"2021-06-01T13:48","series":"Simulated","value":187.5},{"time":"2021-06-01T13:57","series":"Simulated","value":185},{"time":"2021-06-01T14:06","series":"Simulated","value":182},{"time":"2021-06-01T14:15","series":"Simulated","value":179},{"time":"2021-06-01T14:24","series":"Simulated","value":175.5},{"time":"2021-06-01T14:33","series":"Simulated","value":171.5},{"time":"2021-06-01T14:42","series":"Simulated","value":167.5},{"time":"2021-06-01T14:51","series":"Simulated","value":163},{"time":"2021-06-01T15:00","series":"Simulated","value":158},{"time":"2021-06-01T15:09","series":"Simulated","value":152.5},{"time":"2021-06-01T15:18","series":"Simulated","value":146.5},{"time":"2021-06-01T15:27","series":"Simulated","value":140.5},{"time":"2021-06-01T15:36","series":"Simulated","value":133.5},{"time":"2021-06-01T15:45","series":"Simulated","value":126.5},{"time":"2021-06-01T15:54","series":"Simulated","value":119},{"time":"2021-06-01T16:03","series":"Simulated","value":111.5},{"time":"2021-06-01T16:12","series":"Simulated","value":104},{"time":"2021-06-01T16:21","series":"Simulated","value":96.5},{"time":"2021-06-01T16:30","series":"Simulated","value":88.5},{"time":"2021-06-01T16:39","series":"Simulated","value":80.5},{"time":"2021-06-01T16:48","series":"Simulated","value":72.5},{"time":"2021-06-01T16:57","series":"Simulated","value":65},{"time":"2021-06-01T17:06","series":"Simulated","value":57.5},{"time":"2021-06-01T17:15","series":"Simulated","value":50},{"time":"2021-06-01T17:24","series":"Simulated","value":42.5},{"time":"2021-06-01T17:33","series":"Simulated","value":35.5},{"time":"2021-06-01T17:42","series":"Simulated","value":29},{"time":"2021-06-01T17:51","series":"Simulated","value":25},{"time":"2021-06-01T18:00","series":"Simulated","value":22.5}
]},
"mark": {"type": "line", "strokeWidth": 1.8},
"encoding": {
"x": {"field": "time", "type": "temporal", "scale": {"domain": [{"year":2021,"month":6,"date":1,"hours":5,"minutes":4},{"year":2021,"month":6,"date":1,"hours":18,"minutes":37}]}, "axis": {"title": "Hour", "format": "%H:%M", "values": [{"year":2021,"month":6,"date":1,"hours":6},{"year":2021,"month":6,"date":1,"hours":8},{"year":2021,"month":6,"date":1,"hours":10},{"year":2021,"month":6,"date":1,"hours":12},{"year":2021,"month":6,"date":1,"hours":14},{"year":2021,"month":6,"date":1,"hours":16},{"year":2021,"month":6,"date":1,"hours":18}]}},
"y": {"field": "value", "type": "quantitative", "scale": {"domain": [6.15, 222.85], "nice": false, "zero": false}, "axis": {"title": "Pₘₚₚ [W]", "values": [25,50,75,100,125,150,175,200], "format": "d"}},
"color": {"field": "series", "type": "nominal", "scale": {"domain": ["Measured","Simulated"], "range": ["#0d5fb3","#0a6b0a"]}, "legend": {"orient": "none", "legendX": 217, "legendY": 478, "title": null, "symbolType": "M-1,0H2.22", "symbolSize": 342, "symbolStrokeWidth": 2}}
}
},
{
"width": 555, "height": 534,
"data": {"values": [
{"time":"2021-03-10T07:35","series":"Measured","value":34.0},{"time":"2021-03-10T07:38","series":"Measured","value":39.0},{"time":"2021-03-10T07:44","series":"Measured","value":42.8},{"time":"2021-03-10T07:47","series":"Measured","value":45.4},{"time":"2021-03-10T07:53","series":"Measured","value":41.9},{"time":"2021-03-10T08:01","series":"Measured","value":39.1},{"time":"2021-03-10T08:07","series":"Measured","value":46.6},{"time":"2021-03-10T08:12","series":"Measured","value":53.0},{"time":"2021-03-10T08:17","series":"Measured","value":61.4},{"time":"2021-03-10T08:21","series":"Measured","value":73.8},{"time":"2021-03-10T08:26","series":"Measured","value":89.2},{"time":"2021-03-10T08:31","series":"Measured","value":99.0},{"time":"2021-03-10T08:34","series":"Measured","value":103.4},{"time":"2021-03-10T08:38","series":"Measured","value":104.4},{"time":"2021-03-10T08:42","series":"Measured","value":95.1},{"time":"2021-03-10T08:47","series":"Measured","value":93.3},{"time":"2021-03-10T08:51","series":"Measured","value":85.3},{"time":"2021-03-10T08:55","series":"Measured","value":94.5},{"time":"2021-03-10T09:00","series":"Measured","value":107.3},{"time":"2021-03-10T09:06","series":"Measured","value":116.5},{"time":"2021-03-10T09:13","series":"Measured","value":124.3},{"time":"2021-03-10T09:17","series":"Measured","value":124.9},{"time":"2021-03-10T09:19","series":"Measured","value":140.1},{"time":"2021-03-10T09:22","series":"Measured","value":140.4},{"time":"2021-03-10T09:25","series":"Measured","value":133.5},{"time":"2021-03-10T09:26","series":"Measured","value":145.0},{"time":"2021-03-10T09:31","series":"Measured","value":146.8},{"time":"2021-03-10T09:53","series":"Measured","value":148.7},{"time":"2021-03-10T10:13","series":"Measured","value":116.0},{"time":"2021-03-10T10:36","series":"Measured","value":121.6},{"time":"2021-03-10T10:39","series":"Measured","value":124.0},{"time":"2021-03-10T10:45","series":"Measured","value":115.2},{"time":"2021-03-10T10:50","series":"Measured","value":101.4},{"time":"2021-03-10T10:55","series":"Measured","value":82.7},{"time":"2021-03-10T10:59","series":"Measured","value":71.0},{"time":"2021-03-10T11:04","series":"Measured","value":69.0},{"time":"2021-03-10T11:09","series":"Measured","value":70.5},{"time":"2021-03-10T11:13","series":"Measured","value":78.6},{"time":"2021-03-10T11:18","series":"Measured","value":81.1},{"time":"2021-03-10T11:23","series":"Measured","value":84.1},{"time":"2021-03-10T11:27","series":"Measured","value":88.9},{"time":"2021-03-10T11:30","series":"Measured","value":82.5},{"time":"2021-03-10T11:35","series":"Measured","value":87.2},{"time":"2021-03-10T11:39","series":"Measured","value":98.9},{"time":"2021-03-10T11:46","series":"Measured","value":97.8},{"time":"2021-03-10T11:51","series":"Measured","value":97.6},{"time":"2021-03-10T12:20","series":"Measured","value":152.9},{"time":"2021-03-10T12:40","series":"Measured","value":122.3},{"time":"2021-03-10T12:44","series":"Measured","value":97.0},{"time":"2021-03-10T12:48","series":"Measured","value":80.0},{"time":"2021-03-10T12:51","series":"Measured","value":70.8},{"time":"2021-03-10T12:56","series":"Measured","value":69.3},{"time":"2021-03-10T13:00","series":"Measured","value":71.3},{"time":"2021-03-10T13:04","series":"Measured","value":69.5},{"time":"2021-03-10T13:10","series":"Measured","value":80.6},{"time":"2021-03-10T13:14","series":"Measured","value":81.0},{"time":"2021-03-10T13:19","series":"Measured","value":77.0},{"time":"2021-03-10T13:23","series":"Measured","value":71.0},{"time":"2021-03-10T13:26","series":"Measured","value":63.6},{"time":"2021-03-10T13:33","series":"Measured","value":59.0},{"time":"2021-03-10T13:38","series":"Measured","value":59.7},{"time":"2021-03-10T13:42","series":"Measured","value":56.2},{"time":"2021-03-10T13:47","series":"Measured","value":50.3},{"time":"2021-03-10T13:54","series":"Measured","value":48.7},{"time":"2021-03-10T14:01","series":"Measured","value":44.1},{"time":"2021-03-10T14:07","series":"Measured","value":39.7},{"time":"2021-03-10T14:13","series":"Measured","value":36.8},{"time":"2021-03-10T14:20","series":"Measured","value":34.5},{"time":"2021-03-10T14:26","series":"Measured","value":33.6},{"time":"2021-03-10T14:33","series":"Measured","value":32.5},{"time":"2021-03-10T14:38","series":"Measured","value":34.4},{"time":"2021-03-10T14:43","series":"Measured","value":36.6},{"time":"2021-03-10T14:47","series":"Measured","value":36.0},{"time":"2021-03-10T14:52","series":"Measured","value":34.3},{"time":"2021-03-10T14:59","series":"Measured","value":30.8},
{"time":"2021-03-10T07:35","series":"Simulated","value":32.8},{"time":"2021-03-10T07:38","series":"Simulated","value":37.5},{"time":"2021-03-10T07:44","series":"Simulated","value":40.7},{"time":"2021-03-10T07:47","series":"Simulated","value":41.3},{"time":"2021-03-10T07:53","series":"Simulated","value":39.9},{"time":"2021-03-10T08:01","series":"Simulated","value":37.3},{"time":"2021-03-10T08:07","series":"Simulated","value":44.2},{"time":"2021-03-10T08:12","series":"Simulated","value":50.5},{"time":"2021-03-10T08:17","series":"Simulated","value":59.4},{"time":"2021-03-10T08:21","series":"Simulated","value":71.8},{"time":"2021-03-10T08:26","series":"Simulated","value":87.1},{"time":"2021-03-10T08:31","series":"Simulated","value":97.5},{"time":"2021-03-10T08:34","series":"Simulated","value":102.0},{"time":"2021-03-10T08:38","series":"Simulated","value":102.6},{"time":"2021-03-10T08:42","series":"Simulated","value":93.6},{"time":"2021-03-10T08:47","series":"Simulated","value":90.3},{"time":"2021-03-10T08:51","series":"Simulated","value":84.8},{"time":"2021-03-10T08:55","series":"Simulated","value":93.6},{"time":"2021-03-10T09:00","series":"Simulated","value":106.4},{"time":"2021-03-10T09:06","series":"Simulated","value":116.3},{"time":"2021-03-10T09:13","series":"Simulated","value":123.6},{"time":"2021-03-10T09:17","series":"Simulated","value":123.9},{"time":"2021-03-10T09:19","series":"Simulated","value":139.7},{"time":"2021-03-10T09:22","series":"Simulated","value":139.0},{"time":"2021-03-10T09:25","series":"Simulated","value":135.7},{"time":"2021-03-10T09:26","series":"Simulated","value":140.2},{"time":"2021-03-10T09:31","series":"Simulated","value":148.3},{"time":"2021-03-10T09:53","series":"Simulated","value":140.2},{"time":"2021-03-10T10:13","series":"Simulated","value":113.1},{"time":"2021-03-10T10:36","series":"Simulated","value":122.6},{"time":"2021-03-10T10:39","series":"Simulated","value":120.6},{"time":"2021-03-10T10:45","series":"Simulated","value":111.5},{"time":"2021-03-10T10:50","series":"Simulated","value":96.0},{"time":"2021-03-10T10:55","series":"Simulated","value":77.6},{"time":"2021-03-10T10:59","series":"Simulated","value":66.4},{"time":"2021-03-10T11:04","series":"Simulated","value":64.6},{"time":"2021-03-10T11:09","series":"Simulated","value":65.8},{"time":"2021-03-10T11:13","series":"Simulated","value":73.6},{"time":"2021-03-10T11:18","series":"Simulated","value":76.2},{"time":"2021-03-10T11:23","series":"Simulated","value":78.4},{"time":"2021-03-10T11:27","series":"Simulated","value":82.4},{"time":"2021-03-10T11:30","series":"Simulated","value":78.3},{"time":"2021-03-10T11:35","series":"Simulated","value":82.5},{"time":"2021-03-10T11:39","series":"Simulated","value":94.6},{"time":"2021-03-10T11:46","series":"Simulated","value":92.7},{"time":"2021-03-10T11:51","series":"Simulated","value":93.5},{"time":"2021-03-10T12:20","series":"Simulated","value":154.1},{"time":"2021-03-10T12:40","series":"Simulated","value":122.2},{"time":"2021-03-10T12:44","series":"Simulated","value":92.4},{"time":"2021-03-10T12:48","series":"Simulated","value":75.9},{"time":"2021-03-10T12:51","series":"Simulated","value":66.3},{"time":"2021-03-10T12:56","series":"Simulated","value":65.5},{"time":"2021-03-10T13:00","series":"Simulated","value":67.6},{"time":"2021-03-10T13:04","series":"Simulated","value":65.7},{"time":"2021-03-10T13:10","series":"Simulated","value":75.8},{"time":"2021-03-10T13:14","series":"Simulated","value":76.1},{"time":"2021-03-10T13:19","series":"Simulated","value":73.3},{"time":"2021-03-10T13:23","series":"Simulated","value":67.3},{"time":"2021-03-10T13:26","series":"Simulated","value":60.7},{"time":"2021-03-10T13:33","series":"Simulated","value":55.0},{"time":"2021-03-10T13:38","series":"Simulated","value":55.7},{"time":"2021-03-10T13:42","series":"Simulated","value":51.8},{"time":"2021-03-10T13:47","series":"Simulated","value":45.8},{"time":"2021-03-10T13:54","series":"Simulated","value":44.2},{"time":"2021-03-10T14:01","series":"Simulated","value":39.7},{"time":"2021-03-10T14:07","series":"Simulated","value":35.9},{"time":"2021-03-10T14:13","series":"Simulated","value":32.9},{"time":"2021-03-10T14:20","series":"Simulated","value":30.4},{"time":"2021-03-10T14:26","series":"Simulated","value":29.3},{"time":"2021-03-10T14:33","series":"Simulated","value":27.9},{"time":"2021-03-10T14:38","series":"Simulated","value":30.6},{"time":"2021-03-10T14:43","series":"Simulated","value":32.4},{"time":"2021-03-10T14:47","series":"Simulated","value":31.8},{"time":"2021-03-10T14:52","series":"Simulated","value":30.5},{"time":"2021-03-10T14:59","series":"Simulated","value":27.5}
]},
"mark": {"type": "line", "strokeWidth": 1.8},
"encoding": {
"x": {"field": "time", "type": "temporal", "scale": {"domain": [{"year":2021,"month":3,"date":10,"hours":7,"minutes":13},{"year":2021,"month":3,"date":10,"hours":15,"minutes":21}]}, "axis": {"title": "Hour", "format": "%H:%M", "values": [{"year":2021,"month":3,"date":10,"hours":8},{"year":2021,"month":3,"date":10,"hours":9},{"year":2021,"month":3,"date":10,"hours":10},{"year":2021,"month":3,"date":10,"hours":11},{"year":2021,"month":3,"date":10,"hours":12},{"year":2021,"month":3,"date":10,"hours":13},{"year":2021,"month":3,"date":10,"hours":14},{"year":2021,"month":3,"date":10,"hours":15}]}},
"y": {"field": "value", "type": "quantitative", "scale": {"domain": [21.17, 160.43], "nice": false, "zero": false}, "axis": {"title": null, "values": [40,60,80,100,120,140,160], "format": "d"}},
"color": {"field": "series", "type": "nominal", "scale": {"domain": ["Measured","Simulated"], "range": ["#0d5fb3","#ff7f0e"]}, "legend": {"orient": "none", "legendX": 216, "legendY": 478, "title": null, "symbolType": "M-1,0H2.22", "symbolSize": 342, "symbolStrokeWidth": 2}}
}
}
]
}
],
"config": {
"font": "DejaVu Sans",
"view": {"stroke": "#222222", "strokeWidth": 1.1},
"axis": {"grid": false, "domain": false, "ticks": true, "tickColor": "#222222", "tickSize": 5, "tickWidth": 1, "labelFont": "DejaVu Sans", "labelFontSize": 13.5, "labelColor": "#1a1a1a", "labelPadding": 5, "labelFlush": false, "labelOverlap": false, "titleFont": "DejaVu Sans", "titleFontSize": 12.5, "titleFontWeight": "normal", "titleColor": "#1a1a1a", "titlePadding": 4},
"axisX": {"titleFontSize": 14, "titlePadding": 4},
"title": {"font": "DejaVu Sans", "fontSize": 17, "fontWeight": "normal", "color": "#1a1a1a", "offset": 6, "anchor": "middle", "frame": "group"},
"legend": {"labelFont": "DejaVu Sans", "labelFontSize": 14, "labelColor": "#1a1a1a", "labelOffset": 23.5, "rowPadding": 3.8, "padding": 5, "strokeColor": "#cccccc", "fillColor": "rgba(255,255,255,0.85)", "cornerRadius": 4, "symbolStrokeWidth": 2, "labelLimit": 200}
}
}
